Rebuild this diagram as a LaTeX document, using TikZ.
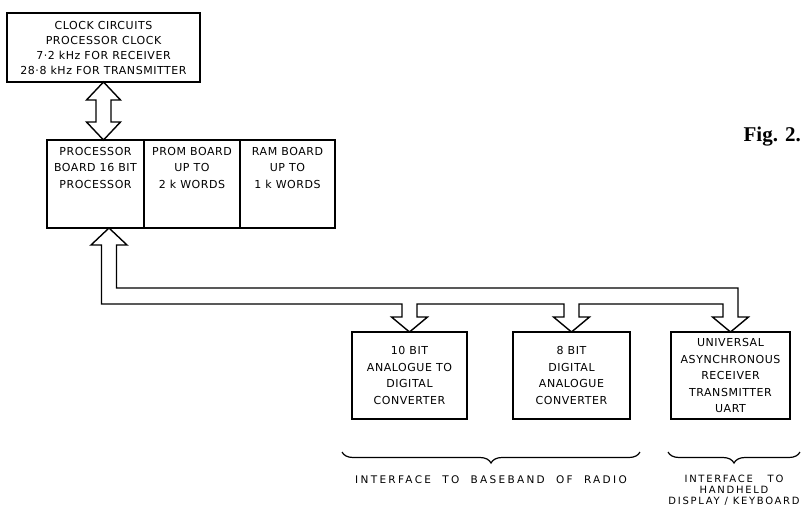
\documentclass[tikz,border=0pt]{standalone}
\usepackage{fontspec}
\setmainfont{Liberation Serif}
\newfontfamily\stencil[LetterSpace=5]{DejaVu Sans}
\newfontfamily\stencilwide[LetterSpace=22]{DejaVu Sans}
\newfontfamily\stencilnote[LetterSpace=17]{DejaVu Sans}
\usepackage{tikz}
\usetikzlibrary{positioning,calc,decorations.pathreplacing}
\newcommand{\boxfont}{\stencil\fontsize{11}{16.5}\selectfont}
\tikzstyle{block} = [rectangle, draw, line width=1.4pt, outer sep=0pt, inner sep=0pt,
    align=center, font=\boxfont]
\tikzstyle{boardtext} = [inner sep=0pt, align=center, font=\boxfont]
\tikzstyle{busline} = [line width=1.4pt, line join=miter]
\tikzstyle{interface} = [decorate, decoration={brace, mirror, amplitude=11pt}, line width=1.2pt]

\begin{document}
\begin{tikzpicture}[x=1pt, y=-1pt, node distance=46pt]
\useasboundingbox (0,0) rectangle (803,512);

% clock and processor boards
\node[block, minimum width=193pt, minimum height=69pt, anchor=north west,
    font=\stencil\fontsize{11}{15}\selectfont] (clock) at (7,13)
    {CLOCK CIRCUITS\\PROCESSOR CLOCK\\7·2 kHz FOR RECEIVER\\28·8 kHz FOR TRANSMITTER};
\node[block, minimum width=97pt, minimum height=88pt, anchor=north west] (proc) at (47,140) {};
\node[block, minimum width=96pt, minimum height=88pt, right=0pt of proc] (prom) {};
\node[block, minimum width=95pt, minimum height=88pt, right=0pt of prom] (ram) {};
\node[boardtext, below=7pt of proc.north] (proctext) {PROCESSOR\\BOARD 16 BIT\\PROCESSOR};
\node[boardtext, below=7pt of prom.north] (promtext) {PROM BOARD\\UP TO\\2 k WORDS};
\node[boardtext, below=7pt of ram.north] (ramtext) {RAM BOARD\\UP TO\\1 k WORDS};

% interface boards
\node[block, minimum width=115pt, minimum height=87pt, anchor=north west] (adc) at (352,332)
    {10 BIT\\ANALOGUE TO\\DIGITAL\\CONVERTER};
\node[block, minimum width=117pt, minimum height=87pt, right=of adc] (dac)
    {8 BIT\\DIGITAL\\ANALOGUE\\CONVERTER};
\node[block, minimum width=119pt, minimum height=87pt, right=41pt of dac] (uart)
    {UNIVERSAL\\ASYNCHRONOUS\\RECEIVER\\TRANSMITTER\\UART};

\node[font=\bfseries\fontsize{21}{24}\selectfont, inner sep=0pt, anchor=base east] (figlabel) at (801,141) {Fig. 2.};

% clock link
\coordinate (clkbot) at (clock.south |- proc.north);
\draw[busline] (clock.south) -- ++(17,18) -- ++(-9.5,0) -- ($(clkbot)+(7.5,-18)$) -- ++(9.5,0)
    -- (clkbot) -- ++(-17,-18) -- ++(9.5,0) -- ($(clock.south)+(-7.5,18)$) -- ++(-9.5,0) -- cycle;

% data bus
\coordinate (busup) at ($(proc.south west)+(62,0)$);
\coordinate (bustop) at ($(busup)+(0,60)$);
\coordinate (busbot) at ($(busup)+(0,76)$);
\draw[busline] (busup) -- ++(18,17) -- ++(-10.5,0) -- ($(bustop)+(7.5,0)$)
    -- ($(uart.north |- bustop)+(7.5,0)$) -- ($(uart.north)+(7.5,-15)$) -- ++(10.5,0)
    -- (uart.north) -- ++(-18,-15) -- ++(10.5,0) -- ($(uart.north |- busbot)+(-7.5,0)$)
    -- ($(dac.north |- busbot)+(7.5,0)$) -- ($(dac.north)+(7.5,-15)$) -- ++(10.5,0)
    -- (dac.north) -- ++(-18,-15) -- ++(10.5,0) -- ($(dac.north |- busbot)+(-7.5,0)$)
    -- ($(adc.north |- busbot)+(7.5,0)$) -- ($(adc.north)+(7.5,-15)$) -- ++(10.5,0)
    -- (adc.north) -- ++(-18,-15) -- ++(10.5,0) -- ($(adc.north |- busbot)+(-7.5,0)$)
    -- ($(busbot)+(-7.5,0)$) -- ($(busup)+(-7.5,17)$) -- ++(-10.5,0) -- cycle;

% interfaces
\draw[interface] ($(adc.south west)+(-10,33)$) -- ($(dac.south east)+(10,33)$) coordinate[midway] (radiomid);
\draw[interface] ($(uart.south west)+(-3,33)$) -- ($(uart.south east)+(10,33)$) coordinate[midway] (handmid);
\node[inner sep=0pt, align=center, font=\stencilwide\fontsize{10.5}{12}\selectfont, below=23pt of radiomid] (radionote)
    {INTERFACE\ \ TO\ \ BASEBAND\ \ OF\ \ RADIO};
\node[inner sep=0pt, align=center, font=\stencilnote\fontsize{10}{11}\selectfont, below=23pt of handmid] (handnote)
    {INTERFACE\quad\ TO\\HANDHELD\\DISPLAY / KEYBOARD};
\end{tikzpicture}
\end{document}
